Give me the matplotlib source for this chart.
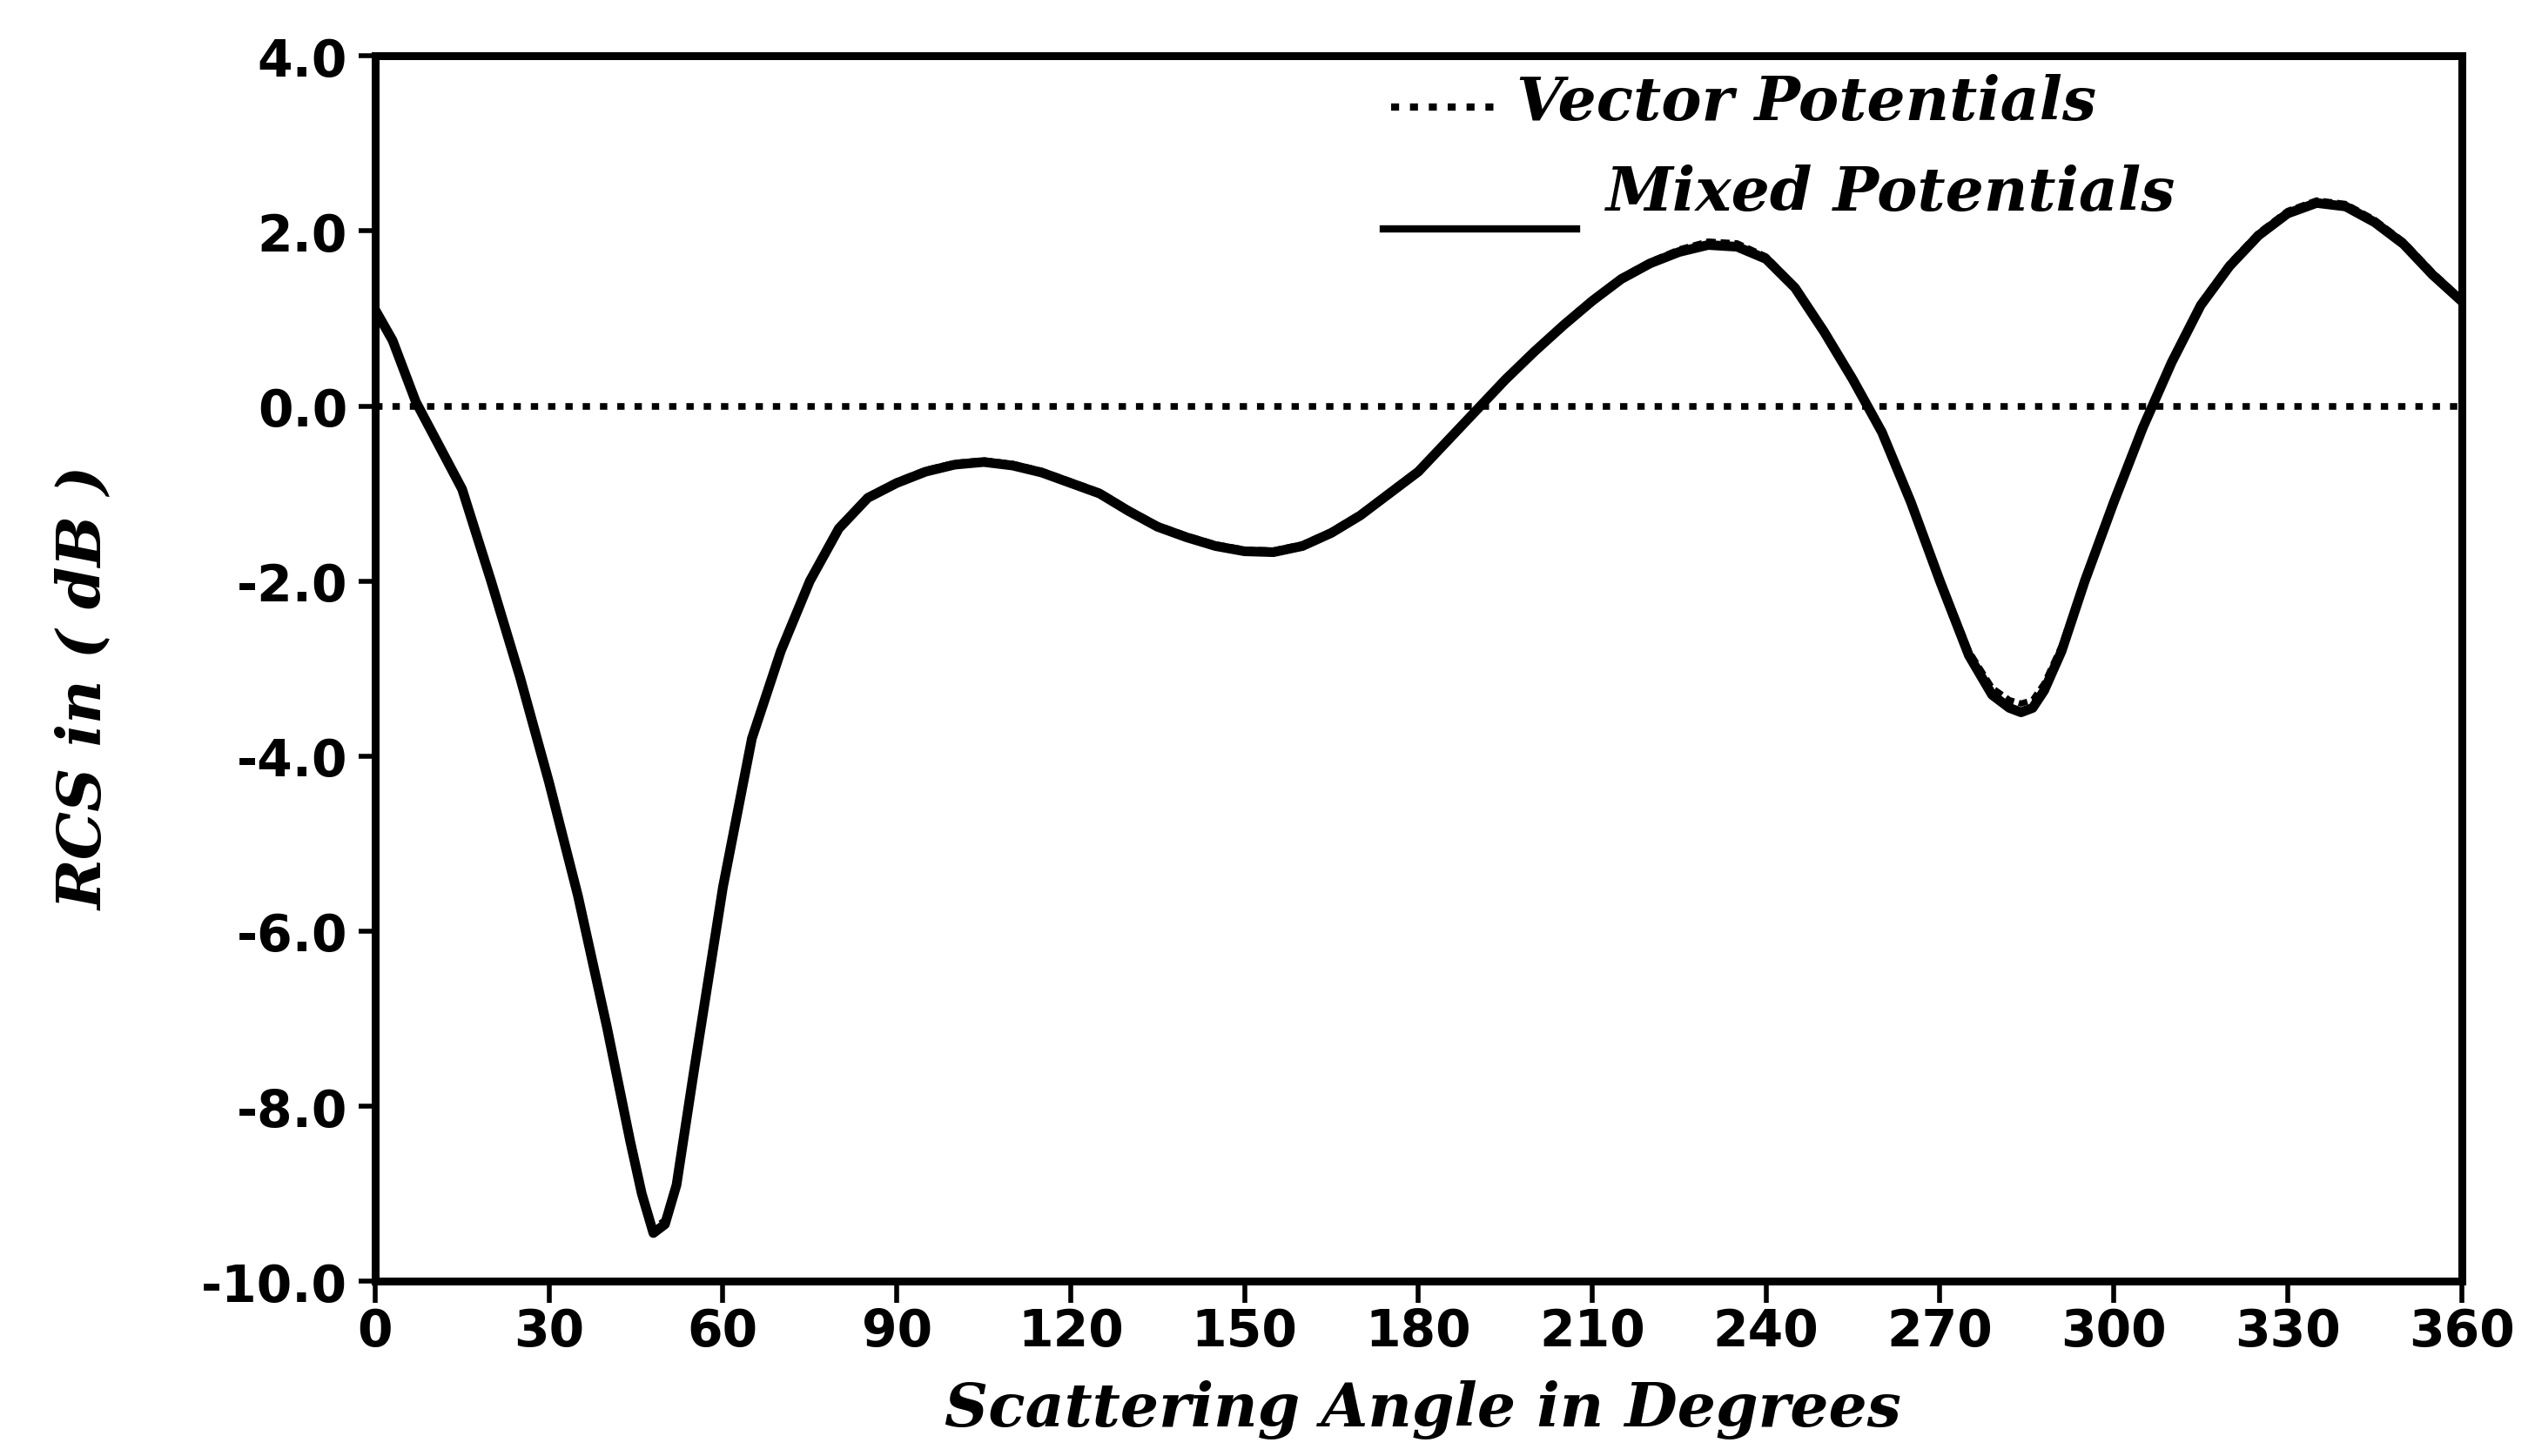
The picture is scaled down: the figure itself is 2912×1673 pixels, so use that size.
#
#   RCS versus scattering angle, vector vs mixed potentials
#

import numpy as np
from matplotlib import pyplot as plt

# Scattering angle in degrees
angle = [0, 3, 7, 11, 15, 20, 25, 30, 35, 40, 44, 46, 48, 50, 52, 55, 60, 65, 70, 75, 80,
         85, 90, 95, 100, 105, 110, 115, 120, 125, 130, 135, 140, 145, 150, 155, 160, 165,
         170, 175, 180, 185, 190, 195, 200, 205, 210, 215, 220, 225, 230, 235, 240, 245,
         250, 255, 260, 265, 270, 275, 279, 282, 284, 286, 288, 291, 295, 300, 305, 310,
         315, 320, 325, 330, 335, 340, 345, 350, 355, 360]

# RCS in dB, mixed potentials
rcsMixed = [1.1, 0.75, 0.05, -0.45, -0.95, -2.0, -3.1, -4.3, -5.6, -7.1, -8.4, -9.0, -9.45,
            -9.35, -8.9, -7.6, -5.5, -3.8, -2.8, -2.0, -1.4, -1.05, -0.88, -0.75, -0.67,
            -0.64, -0.68, -0.76, -0.88, -1.0, -1.2, -1.38, -1.5, -1.6, -1.66, -1.67, -1.6,
            -1.45, -1.25, -1.0, -0.75, -0.4, -0.05, 0.3, 0.62, 0.92, 1.2, 1.45, 1.63, 1.76,
            1.84, 1.82, 1.68, 1.35, 0.85, 0.3, -0.3, -1.1, -2.0, -2.85, -3.3, -3.45, -3.5,
            -3.45, -3.25, -2.8, -2.0, -1.1, -0.25, 0.5, 1.15, 1.6, 1.95, 2.2, 2.32, 2.28,
            2.1, 1.85, 1.5, 1.2]

# RCS in dB, vector potentials (almost on top of the mixed curve)
rcsVector = [1.1, 0.77, 0.07, -0.43, -0.93, -1.98, -3.08, -4.28, -5.58, -7.08, -8.36, -8.95,
             -9.4, -9.3, -8.85, -7.55, -5.45, -3.76, -2.78, -1.98, -1.38, -1.03, -0.86,
             -0.73, -0.65, -0.62, -0.66, -0.74, -0.86, -0.98, -1.18, -1.36, -1.48, -1.58,
             -1.64, -1.65, -1.58, -1.43, -1.23, -0.98, -0.73, -0.38, -0.03, 0.32, 0.64,
             0.94, 1.22, 1.47, 1.65, 1.79, 1.88, 1.86, 1.71, 1.37, 0.87, 0.32, -0.28, -1.08,
             -1.96, -2.8, -3.22, -3.36, -3.4, -3.36, -3.17, -2.74, -1.96, -1.06, -0.22,
             0.53, 1.18, 1.63, 1.98, 2.23, 2.35, 2.31, 2.13, 1.88, 1.53, 1.22]

xTicks = list(range(0, 361, 30))
yTicks = [4.0, 2.0, 0.0, -2.0, -4.0, -6.0, -8.0, -10.0]

labelFont = {"family": "DejaVu Serif", "style": "italic", "weight": "bold"}

fig = plt.figure(figsize=(29.12, 16.74), dpi=100)
ax = fig.add_axes([0.148, 0.120, 0.823, 0.841])

# zero reference line, dotted
ax.axhline(0.0, color="black", linestyle=(0, (1.1, 1.5)), linewidth=5.5, zorder=1)
# curves
ax.plot(angle, rcsMixed, color="black", linewidth=8, solid_capstyle="round",
        solid_joinstyle="round", zorder=2)
ax.plot(angle, rcsVector, color="black", linewidth=5, linestyle=(0, (1.5, 0.8)), zorder=3)

ax.set_xlim(0, 360)
ax.set_ylim(-10, 4)
ax.set_xticks(xTicks)
ax.set_yticks(yTicks)
ax.set_xticklabels([str(t) for t in xTicks])
ax.set_yticklabels(["{:.1f}".format(t) for t in yTicks])

for spine in ax.spines.values():
    spine.set_linewidth(6.5)
ax.tick_params(axis="both", direction="out", width=4, labelsize=42, colors="black")
ax.tick_params(axis="x", length=18, pad=3)
ax.tick_params(axis="y", length=14, pad=9)
for lab in ax.get_xticklabels() + ax.get_yticklabels():
    lab.set_fontweight("bold")
    lab.set_family("DejaVu Sans")

ax.set_xlabel("Scattering Angle in Degrees", fontdict=labelFont, fontsize=50)
ax.set_ylabel("RCS in ( dB )", fontdict=labelFont, fontsize=50)
ax.xaxis.set_label_coords(0.502, -0.08)
ax.yaxis.set_label_coords(-0.125, 0.485)

# legend drawn as text + sample lines like the original
ax.plot([0.487, 0.54], [0.958, 0.958], transform=ax.transAxes, color="black",
        linestyle=(0, (1.1, 1.5)), linewidth=6, clip_on=False)
ax.text(0.547, 0.962, "Vector Potentials", transform=ax.transAxes, fontdict=labelFont,
        fontsize=50, va="center", ha="left")
ax.plot([0.483, 0.576], [0.859, 0.859], transform=ax.transAxes, color="black",
        linewidth=6, clip_on=False)
ax.text(0.590, 0.888, "Mixed Potentials", transform=ax.transAxes, fontdict=labelFont,
        fontsize=50, va="center", ha="left")

fig.savefig("out.png", dpi=100, facecolor="white")
